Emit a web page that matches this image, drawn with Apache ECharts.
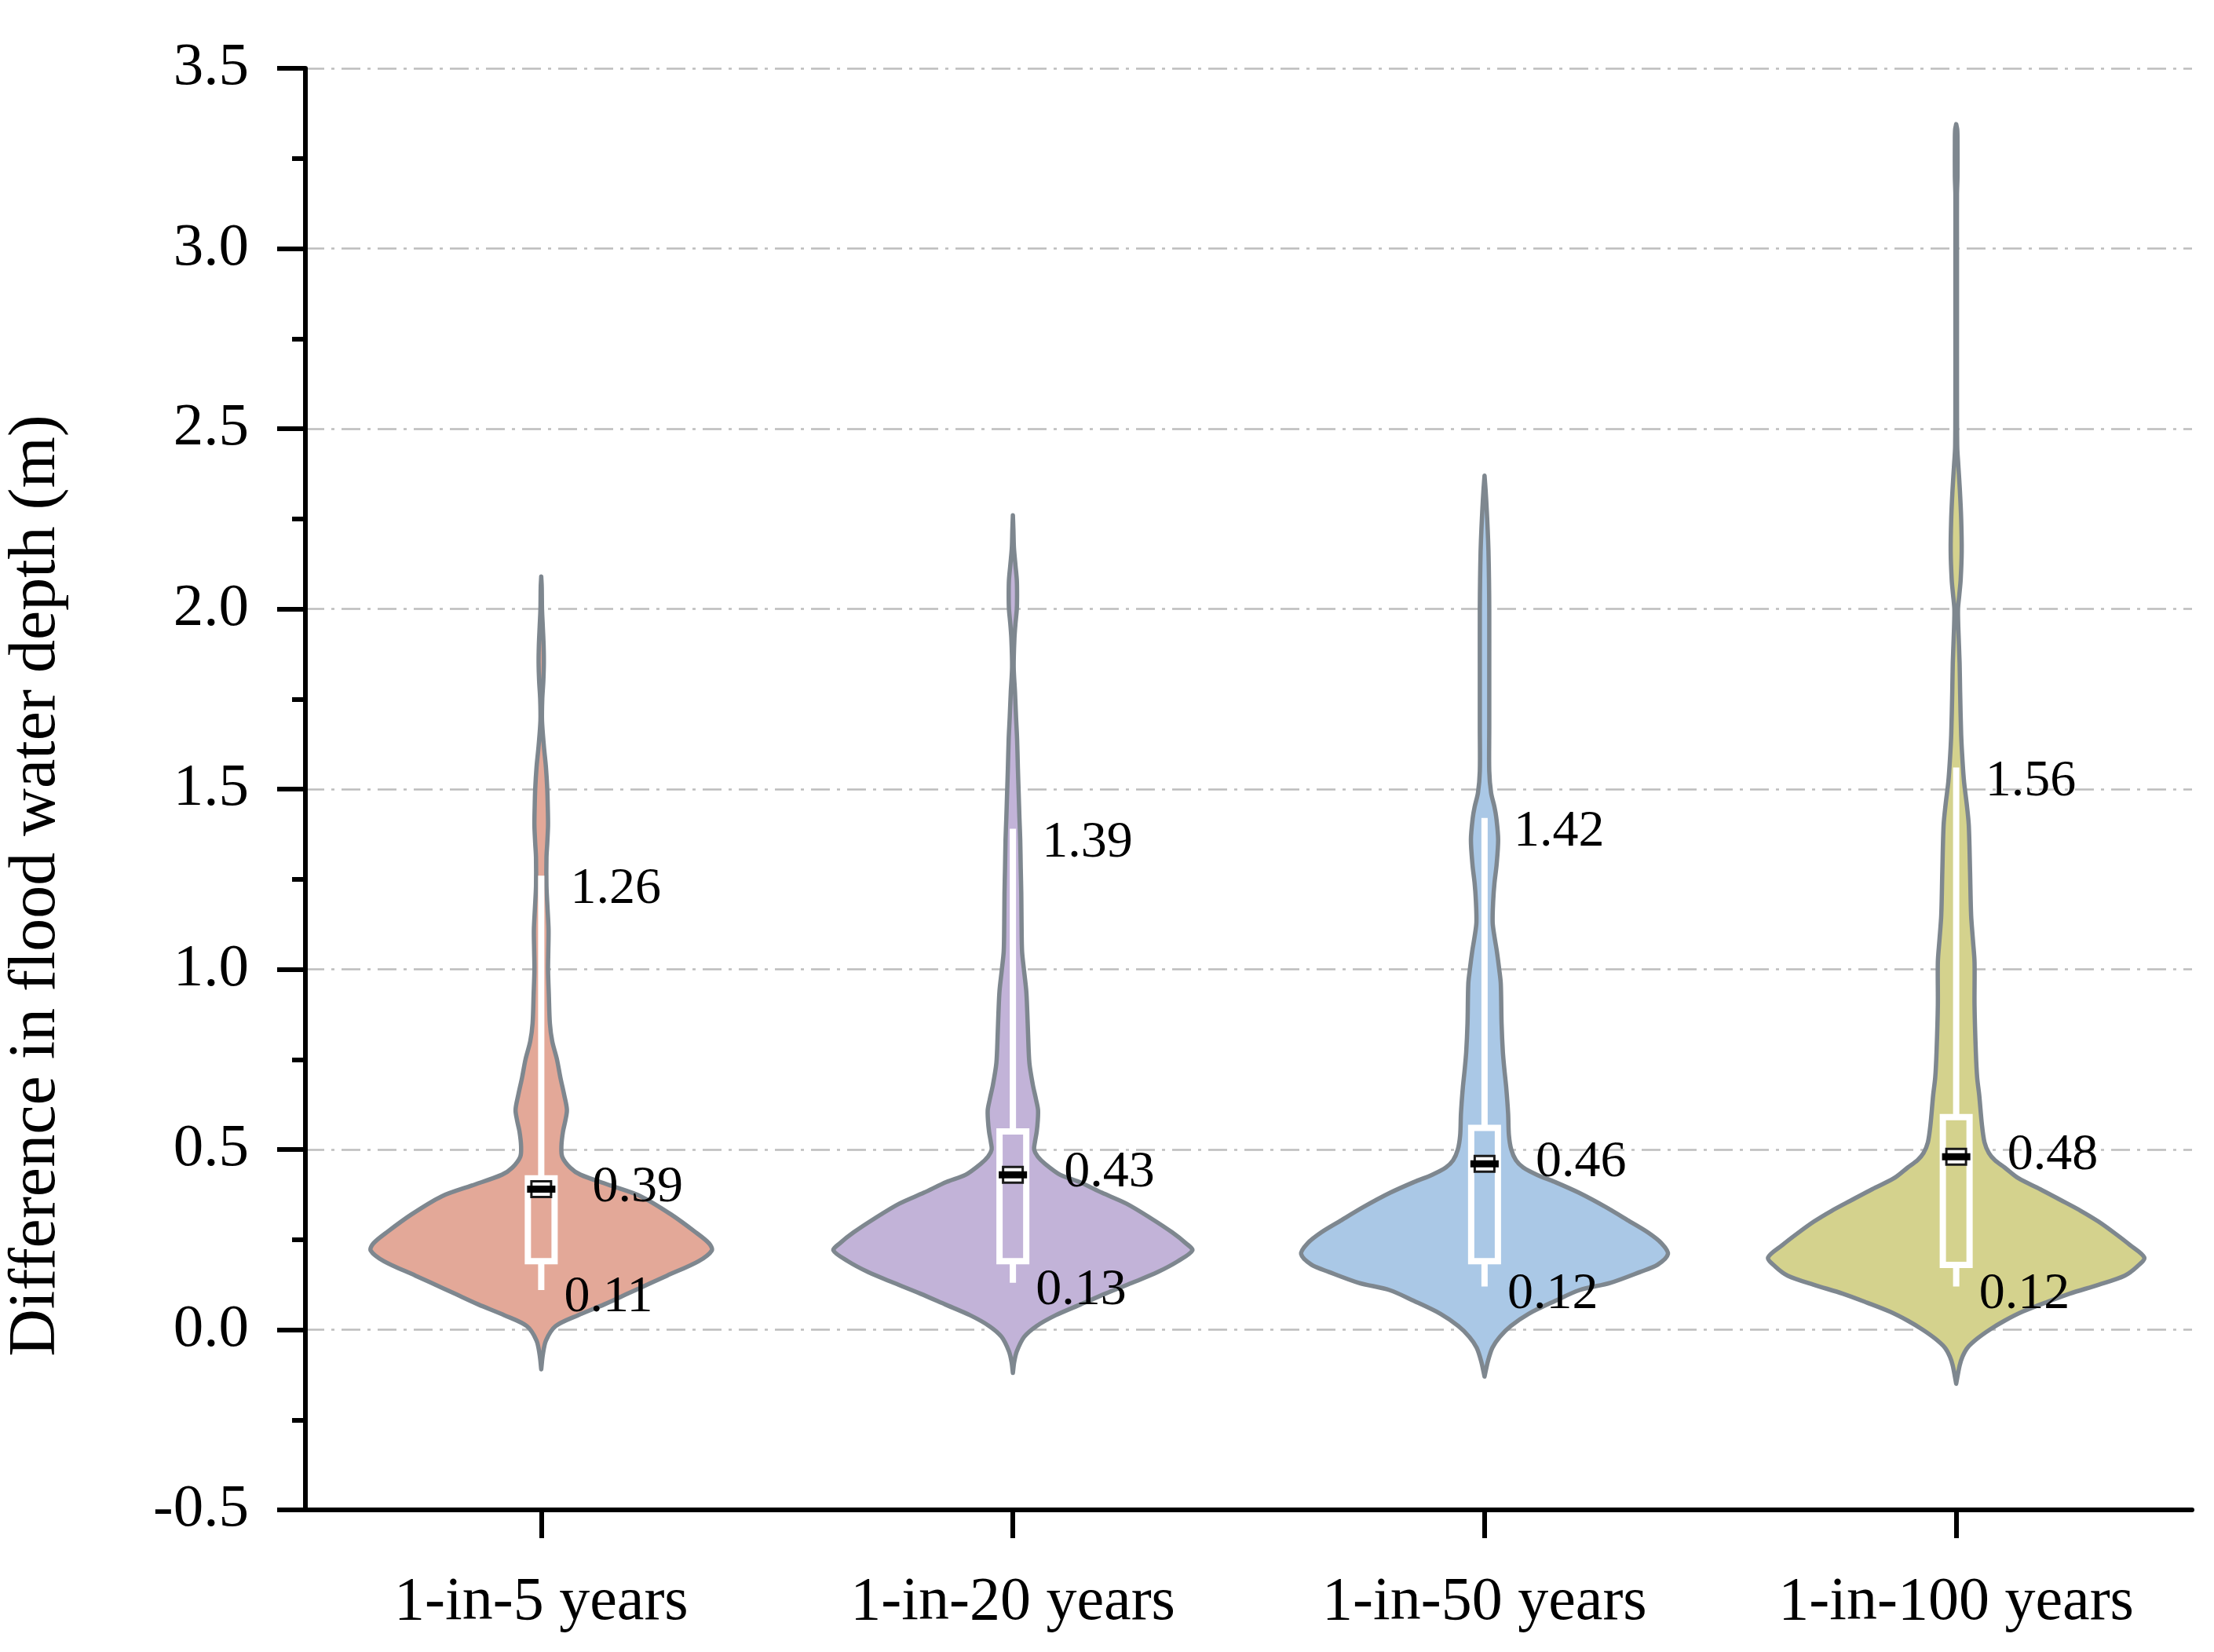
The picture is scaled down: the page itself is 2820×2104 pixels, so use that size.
<!DOCTYPE html>
<html><head><meta charset="utf-8">
<script src="https://cdn.jsdelivr.net/npm/echarts@6/dist/echarts.min.js"></script>
<style>html,body{margin:0;padding:0;background:#fff;}#c{width:2820px;height:2104px;}</style>
</head><body><div id="c"></div>
<script>
// ---------- data ----------
const categories = ['1-in-5 years', '1-in-20 years', '1-in-50 years', '1-in-100 years'];
const whiskerLow  = [0.11, 0.13, 0.12, 0.12];
const whiskerHigh = [1.26, 1.39, 1.42, 1.56];
const medians     = [0.39, 0.43, 0.46, 0.48];
const quartile1   = [0.19, 0.19, 0.19, 0.18];
const quartile3   = [0.42, 0.55, 0.56, 0.59];
const yAxisName = 'Difference in flood water depth (m)';

// kernel density profiles: [depth value, relative density]
const density5 = [[2.09,0],[2.06,2],[2.0,3],[1.95,6],[1.90,9],[1.85,10],[1.80,8],[1.75,4],[1.69,3],[1.62,10],[1.56,18],[1.50,23],[1.45,25],[1.40,26],[1.35,23],[1.31,20],[1.23,20],[1.17,24],[1.11,28],[1.05,27],[1.00,26],[0.93,29],[0.85,33],[0.80,42],[0.75,60],[0.70,73],[0.65,88],[0.61,98],[0.58,92],[0.55,83],[0.51,77],[0.48,80],[0.45,110],[0.43,150],[0.40,265],[0.37,380],[0.32,495],[0.27,590],[0.24,640],[0.22,651],[0.19,600],[0.15,480],[0.13,420],[0.10,330],[0.07,240],[0.04,140],[0.01,55],[-0.03,18],[-0.07,6],[-0.11,0]];
const density20 = [[2.26,0],[2.22,2],[2.17,4],[2.12,10],[2.08,15],[2.04,16],[2.00,15],[1.96,10],[1.92,6],[1.84,3],[1.77,8],[1.70,12],[1.64,16],[1.56,19],[1.49,22],[1.42,25],[1.36,28],[1.28,30],[1.21,32],[1.13,33],[1.05,35],[1.00,42],[0.94,51],[0.88,55],[0.82,58],[0.74,63],[0.68,76],[0.64,88],[0.61,96],[0.58,95],[0.55,91],[0.52,84],[0.50,81],[0.48,95],[0.46,123],[0.43,180],[0.41,253],[0.38,340],[0.35,433],[0.31,525],[0.27,608],[0.24,660],[0.22,685],[0.19,630],[0.16,553],[0.13,455],[0.10,353],[0.07,258],[0.04,163],[0.01,90],[-0.02,43],[-0.06,15],[-0.09,5],[-0.12,0]];
const density50 = [[2.37,0],[2.33,4],[2.28,8],[2.22,12],[2.16,15],[2.08,17],[2.00,18],[1.83,18],[1.67,18],[1.55,18],[1.49,25],[1.45,38],[1.42,45],[1.36,52],[1.29,46],[1.24,38],[1.19,33],[1.13,31],[1.09,38],[1.05,47],[1.00,56],[0.96,62],[0.85,65],[0.77,70],[0.72,76],[0.67,83],[0.60,90],[0.54,93],[0.50,102],[0.47,120],[0.45,148],[0.43,200],[0.41,268],[0.38,360],[0.34,463],[0.30,555],[0.27,623],[0.24,675],[0.21,700],[0.18,660],[0.16,593],[0.13,480],[0.11,363],[0.08,270],[0.044,168],[0.01,100],[-0.02,58],[-0.05,30],[-0.087,13],[-0.13,0]];
const density100 = [[3.345,0],[3.33,4],[3.30,5],[3.20,5],[3.15,3],[3.00,3],[2.80,3],[2.60,3],[2.45,4],[2.40,8],[2.33,14],[2.25,19],[2.16,21],[2.08,17],[2.04,12],[2.00,7],[1.95,8],[1.85,13],[1.77,15],[1.65,19],[1.58,24],[1.52,30],[1.46,40],[1.40,48],[1.27,53],[1.15,57],[1.08,64],[1.02,70],[0.90,70],[0.77,75],[0.70,80],[0.65,88],[0.57,98],[0.52,108],[0.49,125],[0.47,148],[0.45,185],[0.42,238],[0.39,320],[0.36,398],[0.33,475],[0.30,543],[0.265,610],[0.235,663],[0.20,718],[0.175,690],[0.15,643],[0.125,545],[0.10,433],[0.075,340],[0.05,253],[0.025,185],[0.00,128],[-0.025,80],[-0.05,43],[-0.075,24],[-0.10,13],[-0.15,0]];
const densities = [density5, density20, density50, density100];

// ---------- style ----------
const FONT = '"Liberation Serif","Times New Roman",serif';
const fills = ['#E3A898', '#C2B3D8', '#AAC8E6', '#D4D28D'];
const outline = '#7E878F';
const DENSITY_TO_BAND = 1 / 1800;   // relative density -> half-width in category-band units
const BOX_HALF = 17 / 600;          // box half-width in band units

const seriesData = categories.map((c, i) => [i, whiskerLow[i], quartile1[i], medians[i], quartile3[i], whiskerHigh[i]]);

function renderItem(params, api) {
  const i = api.value(0);
  const band = api.size([1, 0])[0];
  const cx = api.coord([i, 0])[0];
  const Y = v => api.coord([i, v])[1];
  const prof = densities[i];
  const right = prof.map(p => [cx + p[1] * DENSITY_TO_BAND * band, Y(p[0])]);
  const left = prof.slice().reverse().map(p => [cx - p[1] * DENSITY_TO_BAND * band, Y(p[0])]);
  const pts = right.concat(left);
  const bh = BOX_HALF * band;
  const lo = api.value(1), q1 = api.value(2), med = api.value(3), q3 = api.value(4), hi = api.value(5);
  const fnt = '66px ' + FONT;
  return {
    type: 'group',
    children: [
      { type: 'polygon', shape: { points: pts, smooth: 0.3 },
        style: { fill: fills[i], stroke: outline, lineWidth: 5.5, lineJoin: 'round' } },
      { type: 'line', shape: { x1: cx, y1: Y(lo), x2: cx, y2: Y(hi) },
        style: { stroke: '#ffffff', lineWidth: 8, lineCap: 'butt' } },
      { type: 'rect', shape: { x: cx - bh, y: Y(q3), width: 2 * bh, height: Y(q1) - Y(q3) },
        style: { fill: fills[i], stroke: '#ffffff', lineWidth: 8 } },
      { type: 'rect', shape: { x: cx - 12.5, y: Y(med) - 10, width: 25, height: 20 },
        style: { fill: '#ffffff', stroke: '#1a1a1a', lineWidth: 3 } },
      { type: 'line', shape: { x1: cx - bh - 1, y1: Y(med), x2: cx + bh + 1, y2: Y(med) },
        style: { stroke: '#000000', lineWidth: 9 } },
      { type: 'text', style: { text: hi.toFixed(2), x: cx + 37, y: Y(hi) + 18, font: fnt, fill: '#000', align: 'left', verticalAlign: 'middle' } },
      { type: 'text', style: { text: med.toFixed(2), x: cx + 65, y: Y(med) - 2, font: fnt, fill: '#000', align: 'left', verticalAlign: 'middle' } },
      { type: 'text', style: { text: lo.toFixed(2), x: cx + 29, y: Y(lo) + 10, font: fnt, fill: '#000', align: 'left', verticalAlign: 'middle' } }
    ]
  };
}

const chart = echarts.init(document.getElementById('c'), null, { renderer: 'canvas' });
chart.setOption({
  animation: false,
  backgroundColor: '#ffffff',
  grid: { left: 389, right: 28, top: 87, bottom: 181, containLabel: false },
  xAxis: {
    type: 'category',
    data: categories,
    boundaryGap: true,
    axisLine: { onZero: false, lineStyle: { color: '#000', width: 6 } },
    axisTick: { show: true, alignWithLabel: true, length: 36, lineStyle: { color: '#000', width: 6 } },
    axisLabel: { color: '#000', fontFamily: FONT, fontSize: 78, margin: 80 },
    splitLine: { show: false }
  },
  yAxis: {
    type: 'value',
    min: -0.5, max: 3.5, interval: 0.5,
    axisLine: { show: true, lineStyle: { color: '#000', width: 6 } },
    axisTick: { show: true, inside: false, length: 36, lineStyle: { color: '#000', width: 6 } },
    minorTick: { show: true, splitNumber: 2, length: 17, lineStyle: { color: '#000', width: 6 } },
    axisLabel: { color: '#000', fontFamily: FONT, fontSize: 77, margin: 72,
      formatter: v => v.toFixed(1) },
    splitLine: { show: true, lineStyle: { color: '#BDBDBD', width: 2.5, type: [24, 9, 4, 9] } }
  },
  graphic: [{
    type: 'text', x: 47, y: 1128, rotation: Math.PI / 2,
    style: { text: yAxisName, font: '84px ' + FONT, fill: '#000', align: 'center', verticalAlign: 'middle' }
  }],
  series: [{
    type: 'custom',
    renderItem: renderItem,
    encode: { x: 0, y: [1, 2, 3, 4, 5] },
    data: seriesData,
    clip: false,
    z: 3
  }]
});
</script></body></html>
